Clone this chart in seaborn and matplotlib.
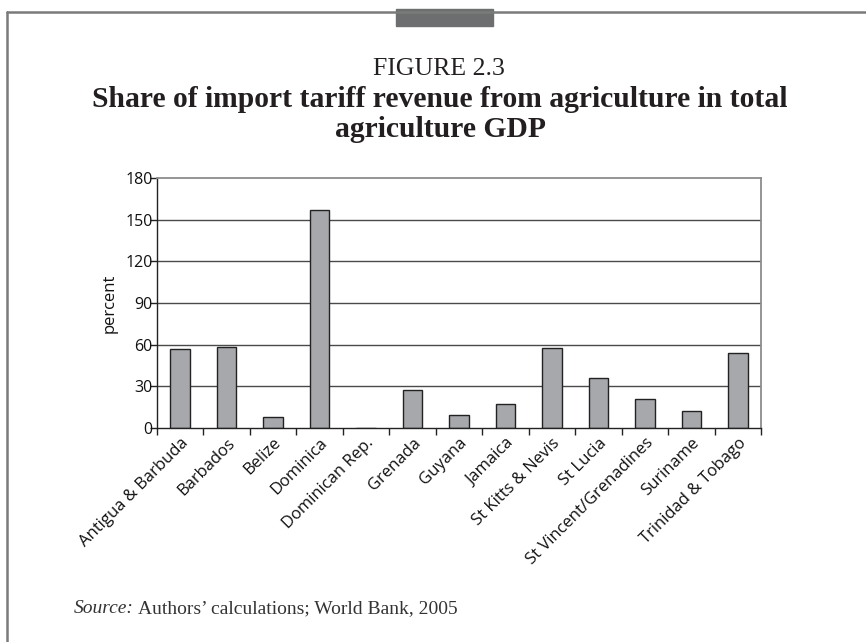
import numpy as np
import pandas as pd
import matplotlib
matplotlib.use("Agg")
import matplotlib.pyplot as plt
from matplotlib.patches import Rectangle
from matplotlib.lines import Line2D
import matplotlib.transforms as mtransforms
import seaborn as sns

countries = ["Antigua & Barbuda", "Barbados", "Belize", "Dominica", "Dominican Rep.",
             "Grenada", "Guyana", "Jamaica", "St Kitts & Nevis", "St Lucia",
             "St Vincent/Grenadines", "Suriname", "Trinidad & Tobago"]
share = [57.1, 58.1, 7.7, 157.2, 0.0, 27.6, 9.1, 17.0, 57.4, 36.0, 20.9, 12.5, 53.8]
yticks = [0, 30, 60, 90, 120, 150, 180]

df = pd.DataFrame({"country": countries, "share": share})

sns.set_theme(style="white")
plt.rcParams["font.family"] = ["Open Sans", "DejaVu Sans"]

fig = plt.figure(figsize=(8.66, 6.42), dpi=100)
W, H = 866, 642


def fx(px):
    return px / W


def fy(py):
    return 1 - py / H


# page frame with tab
fig.add_artist(Line2D([fx(7), 1.0], [fy(12), fy(12)], color="#7a7a7a", lw=1.8,
                      transform=fig.transFigure))
fig.add_artist(Line2D([fx(7), fx(7)], [fy(12), 0.0], color="#7a7a7a", lw=1.8,
                      transform=fig.transFigure))
fig.add_artist(Rectangle((fx(396), fy(26)), 97 / W, 17 / H, color="#6d6e70",
                         transform=fig.transFigure))

serif = ["Liberation Serif", "DejaVu Serif"]
ink = "#231f20"
fig.text(fx(439), fy(75), "FIGURE 2.3", ha="center", va="baseline",
         fontsize=18.5, family=serif, color=ink)
fig.text(fx(440), fy(107), "Share of import tariff revenue from agriculture in total",
         ha="center", va="baseline", fontsize=21.3, fontweight="bold", family=serif,
         color=ink)
fig.text(fx(440), fy(137), "agriculture GDP",
         ha="center", va="baseline", fontsize=21.3, fontweight="bold", family=serif,
         color=ink)

ax = fig.add_axes([fx(157), fy(428), 604 / W, 250 / H])
sns.barplot(data=df, x="country", y="share", order=countries, color="#a7a8ac",
            saturation=1, edgecolor="#222222", linewidth=1.0, width=0.42, ax=ax)

ax.set_xlim(-0.5, len(countries) - 0.5)
ax.set_ylim(0, 180)
ax.set_yticks(yticks)
ax.set_yticklabels([str(v) for v in yticks], fontsize=11.5, color="#111111")
for v in yticks[1:-1]:
    ax.axhline(v, color="#4a4a4a", lw=1.0, zorder=0)
ax.set_axisbelow(True)

ax.set_xticks(range(len(countries)))
ax.set_xticklabels(countries, rotation=45, ha="right", rotation_mode="anchor",
                   fontsize=12, color="#111111")
offset = mtransforms.ScaledTranslation(9 / 100, 0, fig.dpi_scale_trans)
for lab in ax.get_xticklabels():
    lab.set_transform(lab.get_transform() + offset)
ax.tick_params(axis="x", which="major", length=0, pad=5)
ax.set_xticks(np.arange(-0.5, len(countries), 1), minor=True)
ax.tick_params(axis="x", which="minor", bottom=True, length=5, width=1, color="#222222",
               direction="out")
ax.tick_params(axis="y", left=True, length=5, width=1, color="#222222", direction="out",
               pad=-2)

ax.set_xlabel("")
ax.set_ylabel("percent", fontsize=12, color="#111111", labelpad=6)

for side in ["left", "bottom"]:
    ax.spines[side].set_color("#222222")
    ax.spines[side].set_linewidth(1.0)
for side in ["right", "top"]:
    ax.spines[side].set_color("#8c8c8c")
    ax.spines[side].set_linewidth(1.3)

src = fig.text(fx(74), fy(613), "Source:", ha="left", va="baseline", fontsize=14,
               family=serif, style="italic", color="#333333")
fig.canvas.draw()
bb = src.get_window_extent()
fig.text((bb.x1 + 4) / W, fy(613), "Authors\u2019 calculations; World Bank, 2005",
         ha="left", va="baseline", fontsize=14, family=serif, color="#333333")

fig.savefig("out.png", dpi=100, facecolor="white")
